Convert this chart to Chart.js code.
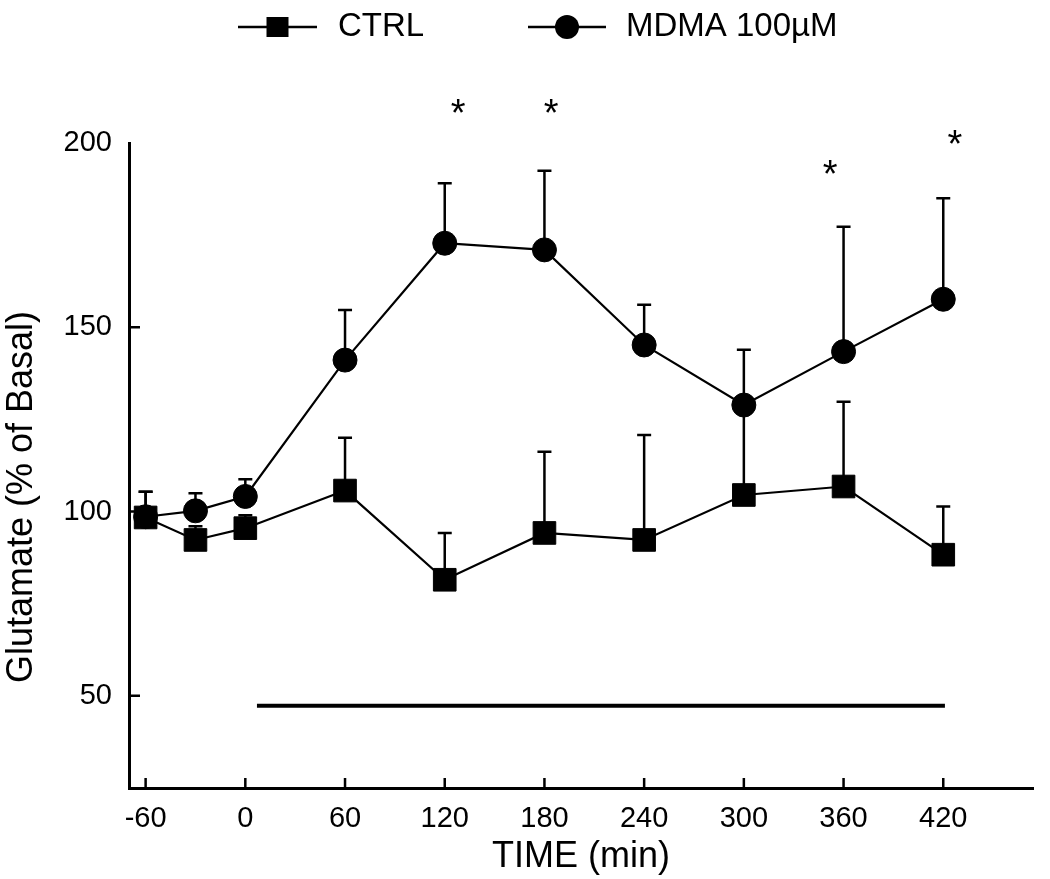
<!DOCTYPE html>
<html>
<head>
<meta charset="utf-8">
<script src="https://cdn.jsdelivr.net/npm/chart.js@4.4.1/dist/chart.umd.min.js"></script>
<style>
  body { margin: 0; background: #fff; }
</style>
</head>
<body>
<canvas id="myChart" width="1050" height="879"></canvas>
<script>
// values (% of basal)
const times = [-60, -30, 0, 60, 120, 180, 240, 300, 360, 420];
const ctrlValues = [98.4, 92.3, 95.5, 105.7, 81.5, 94.2, 92.3, 104.5, 106.8, 88.3];
const ctrlErrTop = [105.4, 96.0, 99.0, 120.0, 94.2, 116.2, 120.8, 129.0, 129.8, 101.4];
const mdmaValues = [98.6, 100.2, 104.1, 141.1, 172.8, 171.0, 145.2, 128.9, 143.4, 157.6];
const mdmaErrTop = [105.4, 105.0, 108.8, 154.7, 189.1, 192.5, 156.1, 143.9, 177.3, 185.0];
const seriesLabels = ['CTRL', 'MDMA 100\u00b5M'];

const xTickValues = [-60, 0, 60, 120, 180, 240, 300, 360, 420];
const yTickValues = [50, 100, 150, 200];

// drug application bar
const treatmentX = [7, 421];
const treatmentY = [47.3, 47.3];

// significance marks
const starX = [128, 184, 352, 427];
const starY = [210, 210, 193.4, 201.6];

const FONT = "'Liberation Sans', Arial, sans-serif";

const extras = {
  id: 'extras',
  beforeDatasetsDraw(chart) {
    const { ctx, scales: { x, y } } = chart;
    ctx.save();
    ctx.strokeStyle = '#000';
    ctx.lineWidth = 2.5;
    [[ctrlValues, ctrlErrTop], [mdmaValues, mdmaErrTop]].forEach(([vals, tops]) => {
      vals.forEach((v, i) => {
        const px = x.getPixelForValue(times[i]);
        const y0 = y.getPixelForValue(v);
        const y1 = y.getPixelForValue(tops[i]);
        ctx.beginPath();
        ctx.moveTo(px, y0);
        ctx.lineTo(px, y1);
        ctx.moveTo(px - 7, y1);
        ctx.lineTo(px + 7, y1);
        ctx.stroke();
      });
    });
    ctx.restore();
  },
  afterDraw(chart) {
    const { ctx, scales: { x, y } } = chart;
    ctx.save();
    ctx.strokeStyle = '#000';
    ctx.fillStyle = '#000';

    // inward tick marks
    ctx.lineWidth = 2.5;
    ctx.beginPath();
    xTickValues.forEach(v => {
      const px = x.getPixelForValue(v);
      ctx.moveTo(px, y.bottom);
      ctx.lineTo(px, y.bottom - 10);
    });
    yTickValues.slice(0, 3).forEach(v => {
      const py = y.getPixelForValue(v);
      ctx.moveTo(x.left, py);
      ctx.lineTo(x.left + 11, py);
    });
    ctx.stroke();

    // asterisks
    ctx.font = '38px ' + FONT;
    ctx.textAlign = 'center';
    ctx.textBaseline = 'alphabetic';
    const m = ctx.measureText('*');
    const shift = (m.actualBoundingBoxAscent - m.actualBoundingBoxDescent) / 2;
    starX.forEach((t, i) => {
      ctx.fillText('*', x.getPixelForValue(t), y.getPixelForValue(starY[i]) + shift);
    });

    // y axis title
    ctx.save();
    ctx.translate(22, 497);
    ctx.rotate(-Math.PI / 2);
    ctx.font = '36px ' + FONT;
    ctx.textBaseline = 'middle';
    ctx.fillText('Glutamate (% of Basal)', 0, 0);
    ctx.restore();

    // legend: line with marker, then label
    const legendY = 27;
    const items = [
      { x0: 238, x1: 317, tx: 338, ds: chart.data.datasets[0] },
      { x0: 528, x1: 606, tx: 626, ds: chart.data.datasets[1] }
    ];
    ctx.font = '33px ' + FONT;
    ctx.textAlign = 'left';
    ctx.textBaseline = 'middle';
    items.forEach(it => {
      ctx.lineWidth = 2.5;
      ctx.beginPath();
      ctx.moveTo(it.x0, legendY);
      ctx.lineTo(it.x1, legendY);
      ctx.stroke();
      const cx = (it.x0 + it.x1) / 2;
      ctx.beginPath();
      if (it.ds.pointStyle === 'rect') {
        ctx.rect(cx - 11, legendY - 10, 22, 20);
      } else {
        ctx.arc(cx, legendY, 12, 0, Math.PI * 2);
      }
      ctx.fill();
      ctx.fillText(it.ds.label, it.tx, legendY);
    });
    ctx.restore();
  }
};

const toPoints = (xs, ys) => xs.map((t, i) => ({ x: t, y: ys[i] }));

const data = {
  datasets: [
    {
      label: seriesLabels[0],
      data: toPoints(times, ctrlValues),
      borderColor: '#000',
      backgroundColor: '#000',
      borderWidth: 2.2,
      pointStyle: 'rect',
      pointRadius: 16,
      pointBorderWidth: 1,
      tension: 0
    },
    {
      label: seriesLabels[1],
      data: toPoints(times, mdmaValues),
      borderColor: '#000',
      backgroundColor: '#000',
      borderWidth: 2.2,
      pointStyle: 'circle',
      pointRadius: 12,
      pointBorderWidth: 1,
      tension: 0
    },
    {
      label: 'treatment',
      data: toPoints(treatmentX, treatmentY),
      borderColor: '#000',
      borderWidth: 4,
      pointRadius: 0
    }
  ]
};

const config = {
  type: 'line',
  data: data,
  options: {
    responsive: false,
    animation: false,
    devicePixelRatio: 1,
    events: [],
    layout: { padding: { top: 143, right: 15, left: 0, bottom: 0 } },
    plugins: {
      legend: { display: false },
      tooltip: { enabled: false }
    },
    scales: {
      x: {
        type: 'linear',
        min: -70,
        max: 474,
        afterBuildTicks: s => { s.ticks = xTickValues.map(value => ({ value })); },
        afterFit: s => { s.height = 91; },
        grid: { display: false, drawTicks: false },
        border: { color: '#000', width: 3 },
        ticks: {
          color: '#000',
          font: { family: FONT, size: 29 },
          padding: 14,
          maxRotation: 0,
          autoSkip: false,
          callback: v => String(v)
        },
        title: {
          display: true,
          text: 'TIME (min)',
          color: '#000',
          font: { family: FONT, size: 36 },
          padding: 0
        }
      },
      y: {
        type: 'linear',
        min: 25,
        max: 200,
        afterBuildTicks: s => { s.ticks = yTickValues.map(value => ({ value })); },
        afterFit: s => { s.width = 129; },
        grid: { display: false, drawTicks: false },
        border: { color: '#000', width: 3 },
        ticks: {
          color: '#000',
          font: { family: FONT, size: 29 },
          padding: 17,
          callback: v => String(v)
        }
      }
    }
  },
  plugins: [extras]
};

new Chart(document.getElementById('myChart'), config);
</script>
</body>
</html>
